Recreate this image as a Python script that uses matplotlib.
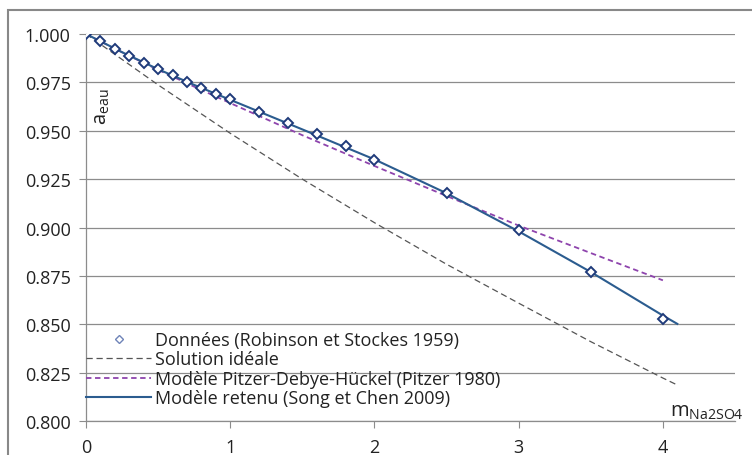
import matplotlib.pyplot as plt
from matplotlib.patches import Rectangle

# Données expérimentales (Robinson et Stokes 1959)
m_exp = [0, 0.1, 0.2, 0.3, 0.4, 0.5, 0.6, 0.7, 0.8, 0.9, 1.0,
         1.2, 1.4, 1.6, 1.8, 2.0, 2.5, 3.0, 3.5, 4.0]
a_exp = [1.000, 0.9963, 0.9925, 0.9888, 0.9851, 0.9820, 0.9788, 0.9753,
         0.9722, 0.9688, 0.9663, 0.9598, 0.9541, 0.9481, 0.9419, 0.9348,
         0.9176, 0.8985, 0.8770, 0.8525]

# Solution idéale
m_ideal = [0, 0.5, 1.0, 1.5, 2.0, 2.5, 3.0, 3.5, 4.0, 4.1]
a_ideal = [1.000, 0.9737, 0.9487, 0.9250, 0.9025, 0.8810, 0.8609, 0.8410, 0.8222, 0.8186]

# Modèle Pitzer-Debye-Hückel
m_pitzer = [0, 0.1, 0.2, 0.3, 0.5, 0.75, 1.0, 1.5, 2.0, 2.5, 3.0, 3.5, 4.0]
a_pitzer = [1.000, 0.9962, 0.9924, 0.9887, 0.9815, 0.9728, 0.9643, 0.9477,
            0.9318, 0.9163, 0.9010, 0.8868, 0.8727]

# Modèle retenu (Song et Chen 2009)
m_song = [0, 0.25, 0.5, 0.75, 1.0, 1.5, 2.0, 2.5, 3.0, 3.5, 4.0, 4.1]
a_song = [1.000, 0.9906, 0.9818, 0.9737, 0.9660, 0.9507, 0.9352, 0.9177,
          0.8980, 0.8770, 0.8545, 0.8502]

plt.rcParams['font.family'] = ['Open Sans', 'DejaVu Sans']
plt.rcParams['mathtext.fontset'] = 'custom'
plt.rcParams['mathtext.rm'] = 'Open Sans'

fig = plt.figure(figsize=(7.52, 4.56), dpi=100)
ax = fig.add_axes([86 / 752, 34 / 456, 649 / 752, 387 / 456])

# cadre gris du graphique
fig.patches.append(Rectangle((8 / 752, -0.1), 1.2, (445 / 456) + 0.1,
                             transform=fig.transFigure, fill=False,
                             edgecolor='#888888', linewidth=1.5))

ax.plot(m_exp, a_exp, linestyle='none', marker='D', markersize=5,
        markerfacecolor='white', markeredgecolor='#1F3A7A', markeredgewidth=1.4,
        label='Données (Robinson et Stockes 1959)', zorder=5)
ax.plot(m_ideal, a_ideal, color='#555555', linestyle=(0, (5, 3)), linewidth=0.9,
        label='Solution idéale')
ax.plot(m_pitzer, a_pitzer, color='#8E44AD', linestyle=(0, (3, 2)), linewidth=1.3,
        label='Modèle Pitzer-Debye-Hückel (Pitzer 1980)')
ax.plot(m_song, a_song, color='#2B5C8F', linewidth=1.5,
        label='Modèle retenu (Song et Chen 2009)')

ax.set_xlim(0, 4.5)
ax.set_ylim(0.8, 1.0)
ax.set_xticks([0, 1, 2, 3, 4])
ax.set_yticks([0.800, 0.825, 0.850, 0.875, 0.900, 0.925, 0.950, 0.975, 1.000])
ax.set_yticklabels(['%.3f' % v for v in ax.get_yticks()])
ax.grid(axis='y', color='#8C8C8C', linewidth=0.9)
ax.set_axisbelow(True)

for s in ['top', 'right']:
    ax.spines[s].set_visible(False)
for s in ['left', 'bottom']:
    ax.spines[s].set_color('#8C8C8C')
    ax.spines[s].set_linewidth(0.9)
ax.tick_params(axis='x', direction='out', length=5, color='#8C8C8C',
               labelsize=13, pad=7, labelcolor='#222222')
ax.tick_params(axis='y', direction='out', length=5, color='#8C8C8C',
               labelsize=13, pad=6, labelcolor='#222222')

ax.text(102 / 752, 1 - 107 / 456, '$\\mathregular{a_{eau}}$', transform=fig.transFigure,
        rotation=90, ha='center', va='center', fontsize=14.5, color='#222222')
ax.text(670 / 752, 1 - 412 / 456, '$\\mathregular{m_{Na2SO4}}$', transform=fig.transFigure,
        ha='left', va='center', fontsize=14.5, color='#222222')

leg = ax.legend(loc='upper left', bbox_to_anchor=(86 / 752, 1 - 332 / 456),
                bbox_transform=fig.transFigure, frameon=False, fontsize=13,
                handlelength=3.6, handletextpad=0.2, labelspacing=0.08,
                borderpad=0, borderaxespad=0)
for t in leg.get_texts():
    t.set_color('#222222')
h0 = leg.legend_handles[0]
h0.set_markersize(4)
h0.set_markeredgewidth(1.0)
h0.set_markeredgecolor('#6F84B8')

fig.savefig('out.png', dpi=100)
